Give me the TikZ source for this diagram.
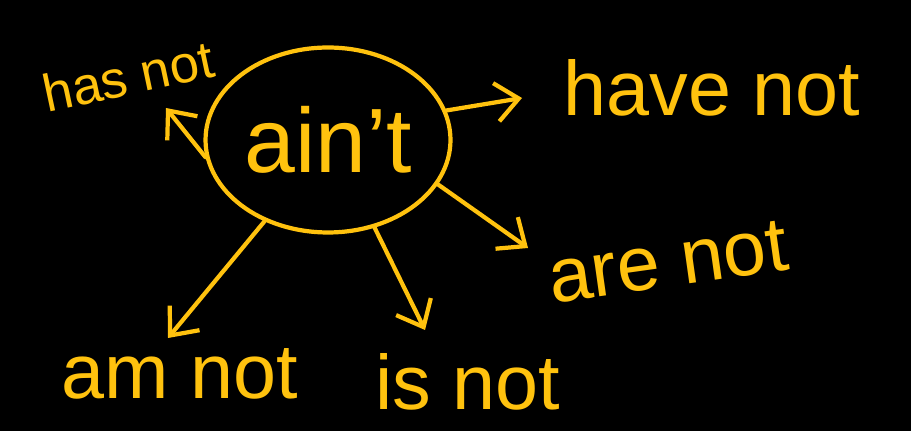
\documentclass[tikz,border=0pt]{standalone}
\usepackage{fontspec}
\setmainfont{Liberation Sans}
\usetikzlibrary{shapes.geometric,arrows.meta}
\definecolor{ink}{RGB}{255,194,14}
\tikzset{
  lbl/.style={text=ink, inner sep=0pt, font=\fontsize{44}{48}\selectfont},
  arr/.style={draw=ink, line width=2.4pt, line cap=round,
    -{Straight Barb[length=13pt,width=22pt,line width=2.4pt]}},
  bubble/.style={ellipse, draw=ink, line width=2.4pt, text=ink,
    minimum width=4.9cm, minimum height=3.7cm, inner sep=0pt,
    font=\fontsize{52}{56}\selectfont}
}
\begin{document}
\begin{tikzpicture}[x=0.02cm,y=-0.02cm]
\fill[black] (0,0) rectangle (911,431);
\useasboundingbox (0,0) rectangle (911,431);
\node[bubble] (e) at (328,140) {ain't};
\node[lbl, rotate=12, font=\fontsize{30}{34}\selectfont] (has) at (128,76) {has not};
\node[lbl] (have) at (712,88) {have not};
\node[lbl, rotate=8] (are) at (668,262) {are not};
\node[lbl] (is) at (468,382) {is not};
\node[lbl] (am) at (180,374) {am not};
\coordinate (thas) at (166,108);
\coordinate (thave) at (522,98);
\coordinate (tare) at (528,248);
\coordinate (tis) at (425,330);
\coordinate (tam) at (168,338);
\draw[arr] (e.188) -- (thas);
\draw[arr] (e.14) -- (thave);
\draw[arr] (e.-22) -- (tare);
\draw[arr] (e.-62) -- (tis);
\draw[arr] (e.-128) -- (tam);
\end{tikzpicture}
\end{document}
